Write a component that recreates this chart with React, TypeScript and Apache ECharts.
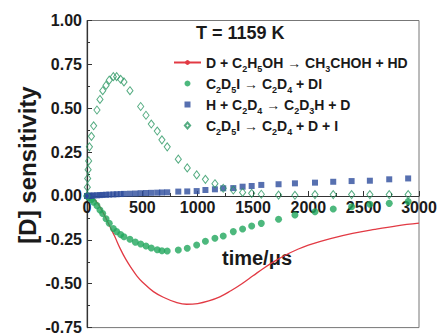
import React, { useEffect, useRef } from "react";
import * as echarts from "echarts";

// Time grid (μs) for the CH3CHOH channel curve
const LINE_TIME = [0, 50, 100, 150, 200, 250, 300, 350, 400, 450, 500, 600, 700, 800, 900, 1000, 1100, 1200, 1300, 1400, 1500, 1600, 1700, 1800, 1900, 2000, 2200, 2400, 2600, 2800, 3000];
const SENS_D_C2H5OH = [0, -0.01, -0.045, -0.1, -0.165, -0.23, -0.3, -0.36, -0.41, -0.455, -0.49, -0.545, -0.58, -0.605, -0.617, -0.613, -0.598, -0.575, -0.54, -0.5, -0.455, -0.41, -0.37, -0.335, -0.305, -0.28, -0.243, -0.213, -0.19, -0.17, -0.155];

// Time points (μs) shared by the symbol series
const TIME = [0, 3, 6, 10, 15, 22, 40, 60, 90, 117, 142, 172, 201, 238, 268, 304, 334, 388, 437, 485, 533, 581, 635, 677, 725, 825, 906, 991, 1070, 1156, 1231, 1322, 1406, 1488, 1575, 1731, 1879, 2060, 2225, 2391, 2556, 2731, 2902];
const SENS_C2D5I_DI = [0, 0, 0, -0.002, -0.004, -0.008, -0.02, -0.035, -0.055, -0.08, -0.1, -0.13, -0.155, -0.185, -0.203, -0.22, -0.232, -0.247, -0.263, -0.274, -0.285, -0.296, -0.306, -0.312, -0.313, -0.308, -0.298, -0.279, -0.258, -0.241, -0.228, -0.203, -0.188, -0.171, -0.156, -0.133, -0.108, -0.09, -0.074, -0.061, -0.047, -0.042, -0.032];
const SENS_H_C2D4 = [0, 0, 0, 0, 0.001, 0.001, 0.002, 0.003, 0.004, 0.005, 0.006, 0.007, 0.008, 0.009, 0.01, 0.011, 0.012, 0.013, 0.014, 0.016, 0.017, 0.018, 0.019, 0.02, 0.021, 0.025, 0.026, 0.028, 0.034, 0.038, 0.044, 0.045, 0.053, 0.057, 0.063, 0.067, 0.072, 0.076, 0.081, 0.085, 0.087, 0.095, 0.1];
const SENS_C2D5I_D_I = [0, 0.05, 0.1, 0.15, 0.2, 0.28, 0.34, 0.4, 0.49, 0.55, 0.6, 0.63, 0.66, 0.68, 0.68, 0.665, 0.65, 0.6, null, 0.51, 0.46, 0.41, 0.37, 0.32, 0.28, 0.21, 0.16, 0.12, 0.095, 0.07, 0.044, 0.034, 0.02, 0.015, 0.01, 0.005, 0.004, 0.008, 0.008, 0.008, 0.008, 0.008, 0.008];

const NAMES = [
  "D + C₂H₅OH → CH₃CHOH + HD",
  "C₂D₅I → C₂D₄ + DI",
  "H + C₂D₄ → C₂D₃H + D",
  "C₂D₅I → C₂D₄ + D + I",
];

const Y_MIN = -0.75;
const Y_MAX = 1.0;
const X_MAX = 3000;

const FONT = "'Liberation Sans', Arial, sans-serif";

// Plot box in pixels
const CHART_H = 333;
const GRID_TOP = 20.5;
const GRID_BOTTOM = 5.4;
// The time axis sits on the zero line of the sensitivity axis
const X_AXIS_OFFSET = -((CHART_H - GRID_TOP - GRID_BOTTOM) * (0 - Y_MIN)) / (Y_MAX - Y_MIN);

// Path symbols so that the legend keeps their aspect ratio
const SQUARE = "path://M0,0L1,0L1,1L0,1Z";
const DIAMOND = "path://M7,0L14,8L7,16L0,8Z";

const SUB_MAP: Record<string, string> = { "₂": "2", "₃": "3", "₄": "4", "₅": "5" };

// Turn subscript digits of a reaction name into rich-text fragments
function richName(name: string) {
  let out = "";
  let buf = "";
  for (const ch of name) {
    if (SUB_MAP[ch]) {
      if (buf) out += `{m|${buf}}`;
      buf = "";
      out += `{s|${SUB_MAP[ch]}}`;
    } else {
      buf += ch;
    }
  }
  if (buf) out += `{m|${buf}}`;
  return out;
}

function pairs(xs: number[], ys: (number | null)[]) {
  return xs.map((x, i) => [x, ys[i]]).filter((p) => p[1] !== null);
}

export default function App() {
  const ref = useRef<HTMLDivElement>(null);

  useEffect(() => {
    if (!ref.current) return;
    const chart = echarts.init(ref.current, null, { renderer: "svg" });
    const axisCol = "#333";
    chart.setOption({
      animation: false,
      backgroundColor: "#fff",
      grid: {
        left: 87,
        right: 19,
        top: GRID_TOP,
        bottom: GRID_BOTTOM,
        show: true,
        borderColor: "#777",
        borderWidth: 1,
        containLabel: false,
        outerBoundsMode: "none",
      },
      xAxis: {
        type: "value",
        min: 0,
        max: X_MAX,
        interval: 500,
        offset: X_AXIS_OFFSET,
        axisLine: { show: true, onZero: false, lineStyle: { color: axisCol, width: 1.2 } },
        axisTick: { inside: true, length: 5, lineStyle: { color: axisCol } },
        minorTick: { show: true, splitNumber: 2, length: 3, lineStyle: { color: axisCol } },
        splitLine: { show: false },
        axisLabel: {
          margin: 4,
          fontFamily: FONT,
          fontWeight: "bold",
          fontSize: 16,
          color: "#1a1a1a",
          showMinLabel: true,
          showMaxLabel: true,
          formatter: (v: number) => String(v),
        },
      },
      yAxis: {
        type: "value",
        min: Y_MIN,
        max: Y_MAX,
        interval: 0.25,
        axisLine: { show: true, lineStyle: { color: axisCol, width: 1.2 } },
        axisTick: { inside: true, length: 5, lineStyle: { color: axisCol } },
        minorTick: { show: true, splitNumber: 2, length: 3, lineStyle: { color: axisCol } },
        splitLine: { show: false },
        axisLabel: {
          margin: 5,
          fontFamily: FONT,
          fontWeight: "bold",
          fontSize: 16,
          color: "#1a1a1a",
          formatter: (v: number) => v.toFixed(2),
        },
      },
      legend: {
        orient: "vertical",
        left: 173,
        top: 52,
        itemWidth: 27,
        itemHeight: 6,
        itemGap: 0,
        padding: 0,
        symbolKeepAspect: true,
        data: NAMES,
        formatter: (name: string) => richName(name),
        textStyle: {
          fontFamily: FONT,
          fontWeight: "bold",
          fontSize: 14,
          color: "#1a1a1a",
          lineHeight: 21,
          rich: {
            m: { fontFamily: FONT, fontWeight: "bold", fontSize: 14, color: "#1a1a1a", lineHeight: 21 },
            s: { fontFamily: FONT, fontWeight: "bold", fontSize: 9, color: "#1a1a1a", lineHeight: 13, verticalAlign: "bottom" },
          },
        },
      },
      graphic: [
        {
          type: "text",
          x: 196,
          y: 33,
          style: {
            text: "T = 1159 K",
            fontFamily: FONT,
            fontWeight: "bold",
            fontSize: 18,
            fill: "#1a1a1a",
            textVerticalAlign: "middle",
          },
        },
        {
          type: "text",
          x: 257,
          y: 258,
          style: {
            text: "time/μs",
            fontFamily: FONT,
            fontWeight: "bold",
            fontSize: 20,
            fill: "#1a1a1a",
            textAlign: "center",
            textVerticalAlign: "middle",
          },
        },
        {
          type: "text",
          x: 27,
          y: 165,
          rotation: Math.PI / 2,
          style: {
            text: "[D] sensitivity",
            fontFamily: FONT,
            fontWeight: "bold",
            fontSize: 24,
            fill: "#1a1a1a",
            textAlign: "center",
            textVerticalAlign: "middle",
          },
        },
      ],
      series: [
        {
          name: NAMES[0],
          type: "line",
          data: pairs(LINE_TIME, SENS_D_C2H5OH),
          smooth: 0.4,
          symbol: "none",
          showSymbol: false,
          lineStyle: { color: "#e23a44", width: 1.3 },
          itemStyle: { color: "#e23a44" },
          z: 2,
        },
        {
          name: NAMES[1],
          type: "scatter",
          data: pairs(TIME, SENS_C2D5I_DI),
          symbol: "circle",
          symbolSize: 7,
          symbolKeepAspect: true,
          itemStyle: { color: "#20a65c" },
          z: 3,
        },
        {
          name: NAMES[2],
          type: "scatter",
          data: pairs(TIME, SENS_H_C2D4),
          symbol: SQUARE,
          symbolSize: 6,
          symbolKeepAspect: true,
          itemStyle: { color: "#2d4c9c" },
          z: 3,
        },
        {
          name: NAMES[3],
          type: "scatter",
          data: pairs(TIME, SENS_C2D5I_D_I),
          symbol: DIAMOND,
          symbolSize: [7, 8],
          symbolKeepAspect: true,
          itemStyle: { color: "rgba(255,255,255,0)", borderColor: "#2a9763", borderWidth: 1 },
          z: 4,
        },
      ],
    });
    return () => chart.dispose();
  }, []);

  return <div ref={ref} style={{ width: 438, height: 333, position: "absolute", left: 0, top: 0 }} />;
}
